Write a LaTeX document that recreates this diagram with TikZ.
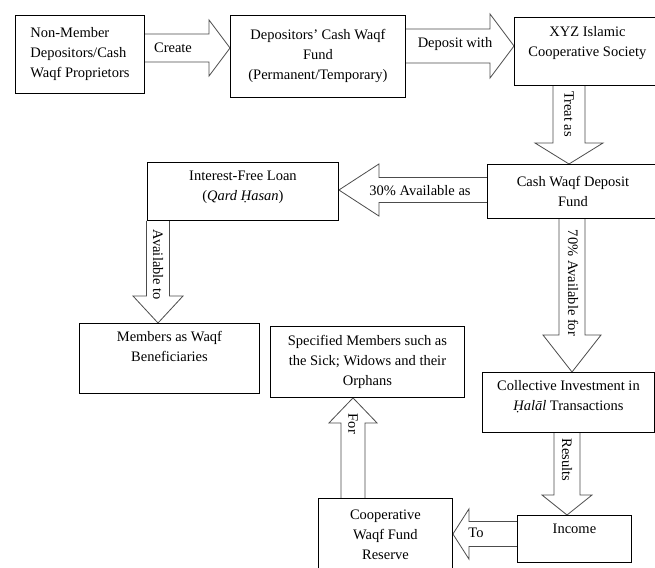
\documentclass[tikz,border=0pt]{standalone}
\usepackage{fontspec}
\setmainfont{Liberation Serif}
\usetikzlibrary{calc,backgrounds}

\tikzset{
  box/.style={draw, line width=0.9pt, anchor=north west, align=center, inner sep=3pt, font=\fontsize{14.5}{20}\selectfont},
  lbl/.style={inner sep=1pt, font=\fontsize{14.5}{18}\selectfont},
  fatarrow/.style n args={3}{draw=black!70, fill=white, line width=0.8pt,
    to path={let \p1=(\tikztostart), \p2=(\tikztotarget),
      \n1={veclen(\x2-\x1,\y2-\y1)-#3}, \p3=($(\p1)!\n1!(\p2)$) in
      ($(\p1)!#1pt!90:(\p2)$) -- ($(\p3)!#1pt!90:(\p2)$) -- ($(\p3)!#2pt!90:(\p2)$)
      -- (\p2) -- ($(\p3)!#2pt!-90:(\p2)$) -- ($(\p3)!#1pt!-90:(\p2)$)
      -- ($(\p1)!#1pt!-90:(\p2)$)}},
}

\begin{document}
\begin{tikzpicture}[x=1pt, y=-1pt]
    \useasboundingbox (0,0) rectangle (655,567);
    % Boxes
    \node[box, minimum width=129, minimum height=78, align=left] (depositors) at (15,15) {Non-Member\\Depositors/Cash\\Waqf Proprietors};
    \node[box, minimum width=175, minimum height=82] (fund) at (230,15) {Depositors' Cash Waqf\\Fund\\(Permanent/Temporary)};
    \node[box, minimum width=146, minimum height=68, text depth=20pt] (society) at (514,17) {XYZ Islamic\\Cooperative Society};
    \node[box, minimum width=171, minimum height=54] (deposit) at (487,164) {Cash Waqf Deposit\\Fund};
    \node[box, minimum width=191, minimum height=58, text depth=12pt] (loan) at (147,162) {Interest-Free Loan\\(\textit{Qard Ḥasan})};
    \node[box, minimum width=180, minimum height=70, text depth=24pt] (members) at (79,323) {Members as Waqf\\Beneficiaries};
    \node[box, minimum width=194, minimum height=71] (specified) at (270,326) {Specified Members such as\\the Sick; Widows and their\\Orphans};
    \node[box, minimum width=172, minimum height=60, text depth=14pt] (invest) at (482,372) {Collective Investment in\\\textit{Ḥalāl} Transactions};
    \node[box, minimum width=114, minimum height=47, text depth=20pt] (income) at (517,515) {Income};
    \node[box, minimum width=134, minimum height=72] (reserve) at (318,498) {Cooperative\\Waqf Fund\\Reserve};

    % Arrows
    \begin{pgfonlayer}{background}
    \draw[fatarrow={14}{28}{21}] (depositors.east |- 0,48) to (fund.west |- 0,48);
    \draw[fatarrow={17}{32}{24}] (fund.east |- 0,46) to (society.west |- 0,46);
    \draw[fatarrow={16}{34}{21}] (society.south -| 569,0) to (deposit.north -| 569,0);
    \draw[fatarrow={12.5}{26}{40}] (deposit.west |- 0,190) to (loan.east |- 0,190);
    \draw[fatarrow={11.5}{25}{27}] (loan.south -| 158,0) to (members.north -| 158,0);
    \draw[fatarrow={13}{29}{37}] (deposit.south -| 572,0) to (invest.north -| 572,0);
    \draw[fatarrow={13}{25}{20}] (invest.south -| 567,0) to (income.north -| 567,0);
    \draw[fatarrow={12.5}{25}{16}] (income.west |- 0,534) to (reserve.east |- 0,534);
    \draw[fatarrow={12}{24}{25}] (reserve.north -| 353,0) to (specified.south -| 353,0);
    \end{pgfonlayer}

    % Arrow labels
    \node[lbl] (lcreate) at (173,48) {Create};
    \node[lbl] (ldeposit) at (455,44) {Deposit with};
    \node[lbl, rotate=-90] (ltreat) at (569,114) {Treat as};
    \node[lbl] (lthirty) at (420,191) {30\% Available as};
    \node[lbl, rotate=-90] (lavail) at (158,265) {Available to};
    \node[lbl, rotate=-90] (lseventy) at (573,283) {70\% Available for};
    \node[lbl, rotate=-90] (lresults) at (567,460) {Results};
    \node[lbl] (lto) at (476,533) {To};
    \node[lbl, rotate=-90] (lfor) at (353,424) {For};
\end{tikzpicture}
\end{document}
